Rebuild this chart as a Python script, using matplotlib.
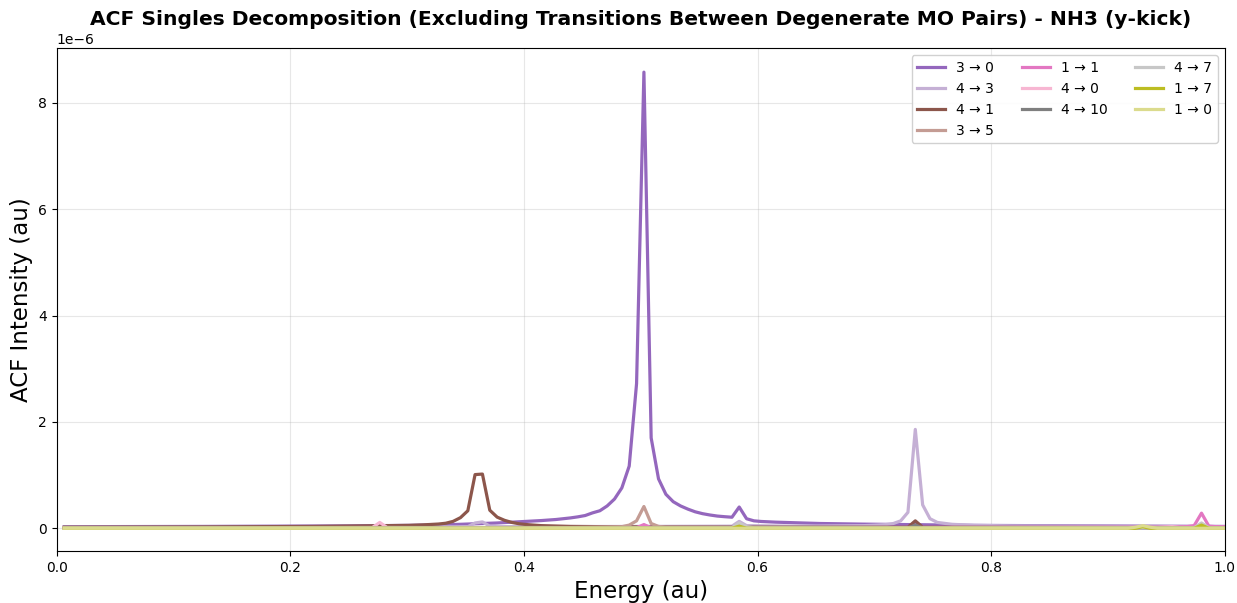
import matplotlib
matplotlib.use("Agg")
import matplotlib.pyplot as plt

# Intensities are given in units of 1e-6 au
SCALE = 1e-6

labels = ["3 → 0", "4 → 3", "4 → 1", "3 → 5", "1 → 1", "4 → 0", "4 → 10", "4 → 7", "1 → 7", "1 → 0"]
colors = ["#9467bd", "#c5b0d5", "#8c564b", "#c49c94", "#e377c2",
          "#f7b6d2", "#7f7f7f", "#c7c7c7", "#bcbd22", "#dbdb8d"]

e_3_0 = [0.0063, 0.1257, 0.2513, 0.3016, 0.3393, 0.3644, 0.3770, 0.3896, 0.4021, 0.4147,
         0.4273, 0.4398, 0.4461, 0.4524, 0.4587, 0.4650, 0.4712, 0.4775, 0.4838, 0.4901,
         0.4964, 0.5027, 0.5089, 0.5152, 0.5215, 0.5278, 0.5341, 0.5404, 0.5466, 0.5529,
         0.5592, 0.5655, 0.5718, 0.5781, 0.5843, 0.5906, 0.5969, 0.6032, 0.6158, 0.6535,
         0.6912, 0.7351, 0.7854, 0.8796, 0.9990]
v_3_0 = [0.030, 0.035, 0.045, 0.055, 0.070, 0.090, 0.100, 0.115, 0.130, 0.145,
         0.165, 0.195, 0.215, 0.240, 0.290, 0.330, 0.420, 0.550, 0.760, 1.170,
         2.720, 8.580, 1.700, 0.930, 0.640, 0.500, 0.420, 0.360, 0.310, 0.275,
         0.250, 0.230, 0.218, 0.208, 0.400, 0.180, 0.140, 0.128, 0.115, 0.090,
         0.078, 0.068, 0.055, 0.045, 0.035]

e_4_3 = [0.0063, 0.3142, 0.3519, 0.3581, 0.3644, 0.3707, 0.3770, 0.5027, 0.5781, 0.5843,
         0.5906, 0.6283, 0.6912, 0.7100, 0.7163, 0.7226, 0.7288, 0.7351, 0.7414, 0.7477,
         0.7540, 0.7665, 0.7854, 0.8168, 0.9110, 0.9990]
v_4_3 = [0.020, 0.025, 0.030, 0.100, 0.120, 0.040, 0.030, 0.035, 0.040, 0.130,
         0.050, 0.040, 0.050, 0.070, 0.090, 0.140, 0.300, 1.860, 0.440, 0.180,
         0.110, 0.075, 0.055, 0.045, 0.035, 0.030]

e_4_1 = [0.0063, 0.1257, 0.2199, 0.2827, 0.3016, 0.3142, 0.3267, 0.3330, 0.3393, 0.3456,
         0.3519, 0.3581, 0.3644, 0.3707, 0.3770, 0.3833, 0.3896, 0.3958, 0.4021, 0.4147,
         0.4398, 0.5027, 0.6283, 0.7288, 0.7351, 0.7414, 0.9990]
v_4_1 = [0.020, 0.025, 0.035, 0.050, 0.055, 0.065, 0.080, 0.095, 0.130, 0.200,
         0.330, 1.010, 1.020, 0.340, 0.210, 0.150, 0.110, 0.085, 0.070, 0.050,
         0.035, 0.025, 0.020, 0.020, 0.140, 0.020, 0.015]

e_3_5 = [0.0063, 0.4398, 0.4838, 0.4901, 0.4964, 0.5027, 0.5089, 0.5152, 0.5215, 0.5781,
         0.5843, 0.5906, 0.9990]
v_3_5 = [0.010, 0.015, 0.030, 0.060, 0.140, 0.410, 0.090, 0.035, 0.020, 0.015,
         0.080, 0.015, 0.010]

e_1_1 = [0.0063, 0.4964, 0.5027, 0.5089, 0.9425, 0.9676, 0.9739, 0.9802, 0.9865, 0.9927,
         0.9990]
v_1_1 = [0.010, 0.010, 0.070, 0.010, 0.020, 0.030, 0.050, 0.285, 0.040, 0.030,
         0.030]

e_4_0 = [0.0063, 0.2702, 0.2765, 0.2827, 0.3770, 0.9425, 0.9550, 0.9613, 0.9990]
v_4_0 = [0.010, 0.015, 0.110, 0.015, 0.010, 0.015, 0.030, 0.015, 0.010]

e_4_10 = [0.0063, 0.5781, 0.5843, 0.5906, 0.7288, 0.7351, 0.7414, 0.9739, 0.9802, 0.9865,
          0.9990]
v_4_10 = [0.005, 0.005, 0.050, 0.005, 0.005, 0.060, 0.005, 0.005, 0.040, 0.005,
          0.005]

e_4_7 = [0.0063, 0.5781, 0.5843, 0.5906, 0.5969, 0.9739, 0.9802, 0.9865, 0.9990]
v_4_7 = [0.008, 0.010, 0.100, 0.030, 0.010, 0.010, 0.100, 0.010, 0.010]

e_1_7 = [0.0063, 0.5781, 0.5843, 0.5906, 0.9236, 0.9299, 0.9362, 0.9739, 0.9802, 0.9865,
         0.9990]
v_1_7 = [0.000, 0.000, 0.040, 0.000, 0.000, 0.030, 0.000, 0.000, 0.060, 0.000,
         0.000]

e_1_0 = [0.0063, 0.9173, 0.9236, 0.9299, 0.9362, 0.9425, 0.9990]
v_1_0 = [0.000, 0.000, 0.020, 0.050, 0.020, 0.000, 0.000]

energies = [e_3_0, e_4_3, e_4_1, e_3_5, e_1_1, e_4_0, e_4_10, e_4_7, e_1_7, e_1_0]
intensities = [v_3_0, v_4_3, v_4_1, v_3_5, v_1_1, v_4_0, v_4_10, v_4_7, v_1_7, v_1_0]

fig = plt.figure(figsize=(12.37, 6.03), dpi=100)
ax = fig.add_axes([0.046, 0.086, 0.944, 0.834])

for e, v, lab, col in zip(energies, intensities, labels, colors):
    ax.plot(e, [y * SCALE for y in v], color=col, lw=2.3, label=lab)

ax.set_xlim(0, 1.0)
ax.set_ylim(-0.43e-6, 9.03e-6)
ax.grid(True, color="#b0b0b0", alpha=0.3, lw=0.8)
ax.set_xlabel("Energy (au)", fontsize=16.5)
ax.set_ylabel("ACF Intensity (au)", fontsize=16.5)
ax.set_title("ACF Singles Decomposition (Excluding Transitions Between Degenerate MO Pairs) - NH3 (y-kick)",
             fontsize=14.6, fontweight="bold", pad=17)
ax.tick_params(labelsize=10)
ax.legend(loc="upper right", ncol=3, fontsize=10, framealpha=0.9)

fig.savefig("out.png", dpi=100)
